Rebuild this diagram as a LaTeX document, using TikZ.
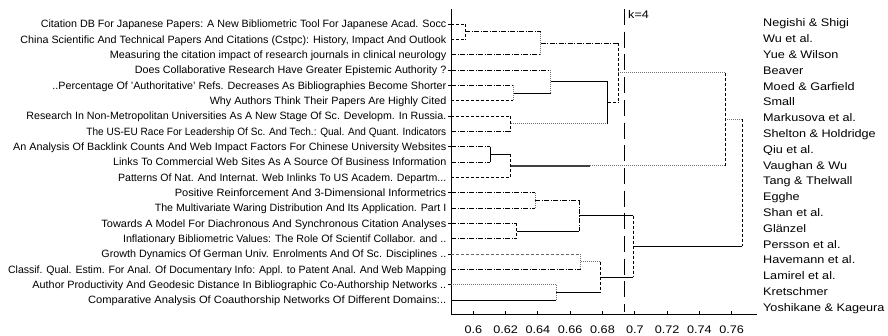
\documentclass[tikz,border=0pt]{standalone}
\usepackage{graphicx}
\usepackage{fontspec}
\setmainfont[FakeStretch=1.15]{Liberation Sans}
\tikzset{
  ln/.style={line width=0.9bp, black},
  sol/.style={ln},
  dsh/.style={ln, dash pattern=on 3bp off 2bp},
  dot/.style={ln, black!55, dash pattern=on 1bp off 1bp},
  dd/.style={ln, dash pattern=on 5bp off 1.5bp on 1bp off 1.5bp},
  lab/.style={font=\fontsize{11bp}{13bp}\selectfont, inner sep=0pt},
  lab2/.style={font=\fontsize{10.6bp}{13bp}\selectfont, inner sep=0pt},
  kline/.style={line width=0.9bp, dash pattern=on 16bp off 6.7bp},
  axis/.style={line width=0.9bp, black},
}
\begin{document}
\begin{tikzpicture}[x=1bp,y=-1bp]
\useasboundingbox[fill=white] (0,0) rectangle (888,335);
% leaves
\foreach \i in {0,...,18}{
  \pgfmathsetmacro\yy{24+15.333*\i}
  \coordinate (L\i) at (451,\yy);
}
% left labels (stretched to the reference widths)
\foreach \i/\w/\t in {
0/405.5/{Citation DB For Japanese Papers: A New Bibliometric Tool For Japanese Acad. Socc},
1/425.8/{China Scientific And Technical Papers And Citations (Cstpc): History, Impact And Outlook},
2/336.5/{Measuring the citation impact of research journals in clinical neurology},
3/311.5/{Does Collaborative Research Have Greater Epistemic Authority ?},
4/393.8/{..Percentage Of 'Authoritative' Refs. Decreases As Bibliographies Become Shorter},
5/236.5/{Why Authors Think Their Papers Are Highly Cited},
6/419.8/{Research In Non-Metropolitan Universities As A New Stage Of Sc. Developm. In Russia.},
7/359.8/{The US-EU Race For Leadership Of Sc. And Tech.: Qual. And Quant. Indicators},
8/433.2/{An Analysis Of Backlink Counts And Web Impact Factors For Chinese University Websites},
9/333.2/{Links To Commercial Web Sites As A Source Of Business Information},
10/328.2/{Patterns Of Nat. And Internat. Web Inlinks To US Academ. Departm...},
11/271.5/{Positive Reinforcement And 3-Dimensional Informetrics},
12/291.5/{The Multivariate Waring Distribution And Its Application. Part I},
13/344.8/{Towards A Model For Diachronous And Synchronous Citation Analyses},
14/323.2/{Inflationary Bibliometric Values: The Role Of Scientif Collabor. and ..},
15/344.8/{Growth Dynamics Of German Univ. Enrolments And Of Sc. Disciplines ..},
16/438.2/{Classif. Qual. Estim. For Anal. Of Documentary Info: Appl. to Patent Anal. And Web Mapping},
17/413.8/{Author Productivity And Geodesic Distance In Bibliographic Co-Authorship Networks ..},
18/358.2/{Comparative Analysis Of Coauthorship Networks Of Different Domains:..}}{
  \pgfmathsetmacro\yy{24+15.333*\i+3.7}
  \node[lab2, anchor=base east] (tl\i) at (446.5,\yy) {\resizebox{\w bp}{\height}{\t}};
}
% right labels
\foreach \i/\t in {
0/{Negishi \& Shigi},1/{Wu et al.},2/{Yue \& Wilson},3/{Beaver},4/{Moed \& Garfield},
5/{Small},6/{Markusova et al.},7/{Shelton \& Holdridge},8/{Qiu et al.},9/{Vaughan \& Wu},
10/{Tang \& Thelwall},11/{Egghe},12/{Shan et al.},13/{Glänzel},14/{Persson et al.},
15/{Havemann et al.},16/{Lamirel et al.},17/{Kretschmer},18/{Yoshikane \& Kageura}}{
  \pgfmathsetmacro\yy{23+15.8*\i+3.8}
  \node[lab, anchor=base west] (tr\i) at (763,\yy) {\t};
}
% axes
\coordinate (ax0) at (451,9);
\coordinate (ax1) at (451,314);
\coordinate (ax2) at (757,314);
\draw[axis] (ax0) -- (ax1) -- (ax2);
\foreach \v/\t [count=\n] in {0/0.6,1/0.62,2/0.64,3/0.66,4/0.68,5/0.7,6/0.72,7/0.74,8/0.76}{
  \pgfmathsetmacro\xx{473.3+32.3*\v}
  \coordinate (tk\n) at (\xx,314);
  \draw[axis] (tk\n) -- ++(0,-3);
  \node[lab, anchor=base] (tn\n) at (\xx,333.3) {\t};
}
\foreach \i in {0,3,4,6,8,11,13,15,17}{
  \draw[axis] (L\i) -- ++(-3,0);
}
% merge points
\coordinate (ca) at (465,31.67);
\coordinate (cb) at (540.7,43.2);
\coordinate (cc) at (513.3,93);
\coordinate (cd) at (550.7,81.5);
\coordinate (ce) at (510.7,123.67);
\coordinate (cf) at (607.7,102.6);
\coordinate (cg) at (618.3,72.9);
\coordinate (ch) at (490,154.33);
\coordinate (ci) at (510.7,165.8);
\coordinate (cj) at (725,119.35);
\coordinate (ck) at (535,200.33);
\coordinate (cl) at (516.7,231);
\coordinate (cm) at (579.3,215.67);
\coordinate (cn) at (580.7,261.67);
\coordinate (co) at (556,292.33);
\coordinate (cp) at (600.7,277);
\coordinate (cq) at (633.3,246.3);
\coordinate (cr) at (742,182.8);
\coordinate (cimid) at (590,165.8);
% horizontal pieces
\draw[dsh] (L0) -- (L0 -| ca);
\draw[dsh] (L1) -- (L1 -| ca);
\draw[dd] (ca) -- (ca -| cb);
\draw[dd] (L2) -- (L2 -| cb);
\draw[dd] (L3) -- (L3 -| cd);
\draw[dd] (L4) -- (L4 -| cc);
\draw[dsh] (L5) -- (L5 -| cc);
\draw[sol] (cc) -- (cc -| cd);
\draw[dsh] (L6) -- (L6 -| ce);
\draw[dd] (L7) -- (L7 -| ce);
\draw[sol] (cd) -- (cd -| cf);
\draw[dot] (ce) -- (ce -| cf);
\draw[dd] (cb) -- (cb -| cg);
\draw[dsh] (cf) -- (cf -| cg);
\draw[dd] (L8) -- (L8 -| ch);
\draw[dd] (L9) -- (L9 -| ch);
\draw[sol] (ch) -- (ch -| ci);
\draw[dsh] (L10) -- (L10 -| ci);
\draw[dot] (cg) -- (cg -| cj);
\draw[sol, line width=1.6bp, black!75] (ci) -- (cimid);
\draw[dot] (cimid) -- (ci -| cj);
\draw[dd] (L11) -- (L11 -| ck);
\draw[dd] (L12) -- (L12 -| ck);
\draw[dd] (L13) -- (L13 -| cl);
\draw[dd] (L14) -- (L14 -| cl);
\draw[dd] (ck) -- (ck -| cm);
\draw[sol] (cl) -- (cl -| cm);
\draw[dsh, black!60] (L15) -- (L15 -| cn);
\draw[dd] (L16) -- (L16 -| cn);
\draw[dot] (L17) -- (L17 -| co);
\draw[sol] (L18) -- (L18 -| co);
\draw[dot] (cn) -- (cn -| cp);
\draw[sol] (co) -- (co -| cp);
\draw[sol] (cm) -- (cm -| cq);
\draw[sol] (cp) -- (cp -| cq);
\draw[dot] (cj) -- (cj -| cr);
\draw[sol] (cq) -- (cq -| cr);
% vertical pieces
\draw[dsh] (ca |- L0) -- (ca |- L1);
\draw[dot] (cb |- ca) -- (cb |- L2);
\draw[dot] (cc |- L4) -- (cc |- L5);
\draw[dot] (cd |- L3) -- (cd |- cc);
\draw[dsh] (ce |- L6) -- (ce |- L7);
\draw[sol] (cf |- cd) -- (cf |- ce);
\draw[dsh] (cg |- cb) -- (cg |- cf);
\draw[sol] (ch |- L8) -- (ch |- L9);
\draw[dsh] (ci |- ch) -- (ci |- L10);
\draw[dsh] (cj |- cg) -- (cj |- ci);
\draw[dot] (ck |- L11) -- (ck |- L12);
\draw[dsh] (cl |- L13) -- (cl |- L14);
\draw[dd] (cm |- ck) -- (cm |- cl);
\draw[dot] (cn |- L15) -- (cn |- L16);
\draw[dot] (co |- L17) -- (co |- L18);
\draw[dsh] (cp |- cn) -- (cp |- co);
\draw[dsh] (cq |- cm) -- (cq |- cp);
\draw[dsh] (cr |- cj) -- (cr |- cq);
% k = 4 cut line
\coordinate (k0) at (624,9);
\coordinate (k1) at (624,312);
\draw[kline] (k0) -- (k1);
\node[lab, anchor=base west] (klab) at (628,18.8) {k=4};
\end{tikzpicture}
\end{document}
